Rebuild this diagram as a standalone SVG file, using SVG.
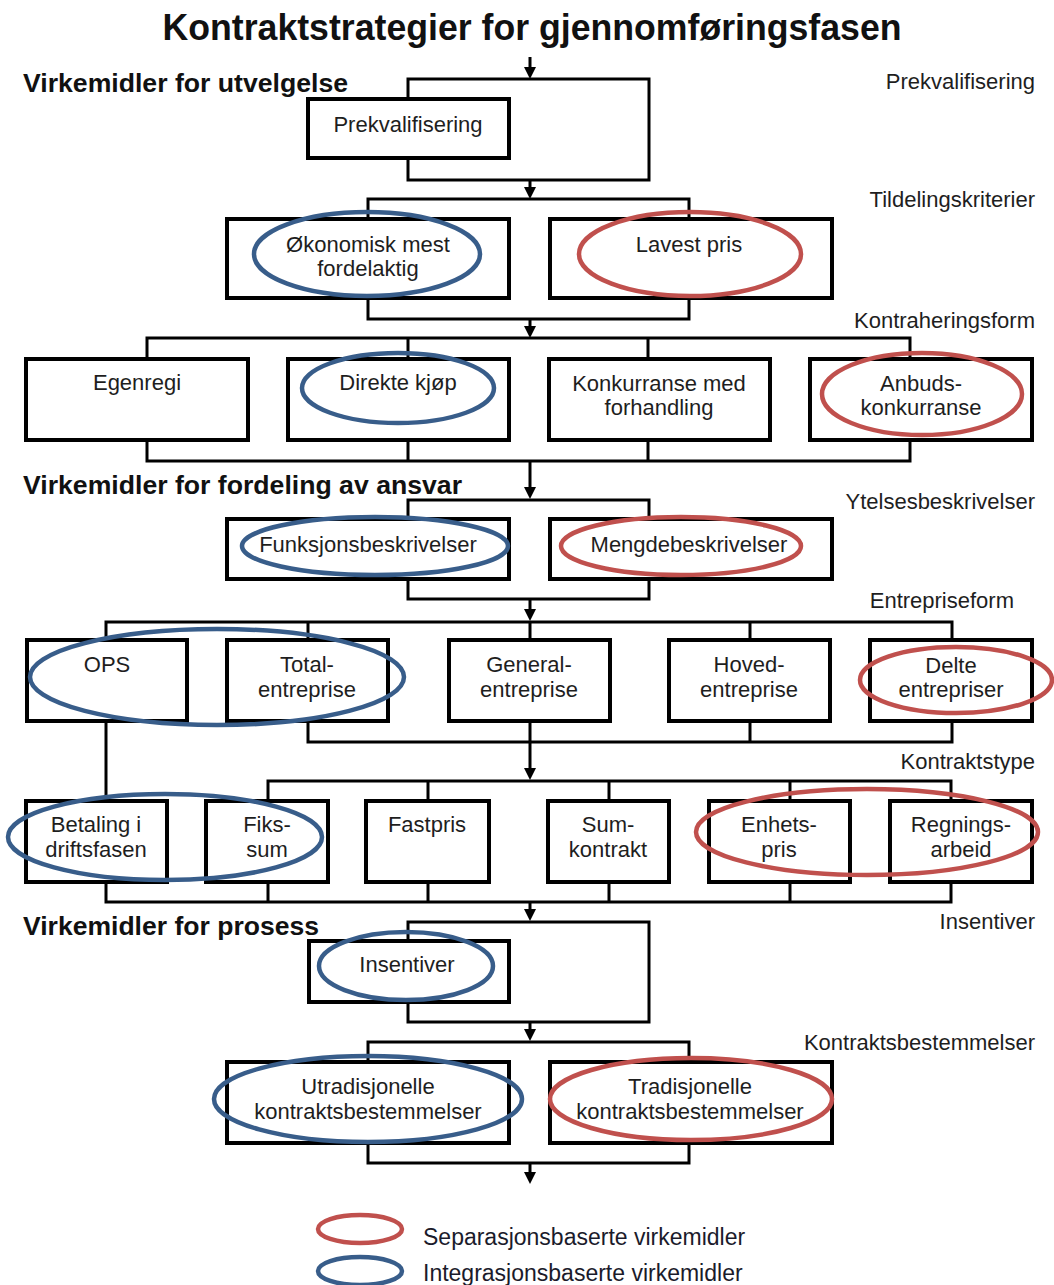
<svg xmlns="http://www.w3.org/2000/svg" width="1054" height="1285" viewBox="0 0 1054 1285">
  <style>
    .bg { fill: #ffffff; }
    .box { fill: #ffffff; stroke: #000000; stroke-width: 4; }
    .wire { fill: none; stroke: #000000; stroke-width: 3; }
    .arrow { fill: none; stroke: #000000; stroke-width: 3; marker-end: url(#head); }
    .t { font-family: "Liberation Sans", Arial, sans-serif; font-size: 22px; fill: #1e1e1e; text-anchor: middle; }
    .lvl { font-family: "Liberation Sans", Arial, sans-serif; font-size: 22px; fill: #1e1e1e; text-anchor: end; }
    .sec { font-family: "Liberation Sans", Arial, sans-serif; font-size: 26.5px; font-weight: bold; fill: #111111; }
    .title { font-family: "Liberation Sans", Arial, sans-serif; font-size: 36px; font-weight: bold; fill: #111111; text-anchor: middle; }
    .leg { font-family: "Liberation Sans", Arial, sans-serif; font-size: 23px; fill: #1b1b2b; }
    .sep { fill: none; stroke: #c0504d; stroke-width: 4.5; }
    .int { fill: none; stroke: #385d8a; stroke-width: 4.5; }
  </style>
  <defs>
    <marker id="head" markerUnits="userSpaceOnUse" markerWidth="12" markerHeight="12" refX="2" refY="6" orient="auto" viewBox="0 0 12 12">
      <path d="M0,0 L12,6 L0,12 z" fill="#000000"/>
    </marker>
  </defs>

  <rect class="bg" x="0" y="0" width="1054" height="1285"/>

  <text class="title" x="532" y="40" textLength="739" lengthAdjust="spacingAndGlyphs">Kontraktstrategier for gjennomføringsfasen</text>

  <!-- section headings -->
  <text class="sec" x="23" y="92" textLength="325" lengthAdjust="spacingAndGlyphs">Virkemidler for utvelgelse</text>
  <text class="sec" x="23" y="494" textLength="439" lengthAdjust="spacingAndGlyphs">Virkemidler for fordeling av ansvar</text>
  <text class="sec" x="23" y="935" textLength="296" lengthAdjust="spacingAndGlyphs">Virkemidler for prosess</text>

  <!-- level labels on the right -->
  <g id="levels">
    <text class="lvl" x="1035" y="89">Prekvalifisering</text>
    <text class="lvl" x="1035" y="207">Tildelingskriterier</text>
    <text class="lvl" x="1035" y="328">Kontraheringsform</text>
    <text class="lvl" x="1035" y="509">Ytelsesbeskrivelser</text>
    <text class="lvl" x="1014" y="608">Entrepriseform</text>
    <text class="lvl" x="1035" y="769">Kontraktstype</text>
    <text class="lvl" x="1035" y="929">Insentiver</text>
    <text class="lvl" x="1035" y="1050">Kontraktsbestemmelser</text>
  </g>

  <!-- connectors -->
  <g id="connectors">
    <!-- entry -->
    <line class="arrow" x1="530" y1="57" x2="530" y2="69"/>
    <!-- prequalification with bypass -->
    <path class="wire" d="M408,99 V79 H649 V180 H408 V158"/>
    <line class="arrow" x1="530" y1="180" x2="530" y2="189"/>
    <!-- award criteria -->
    <path class="wire" d="M368,219 V199 H689 V219"/>
    <path class="wire" d="M368,298 V319 H689 V298"/>
    <line class="arrow" x1="530" y1="319" x2="530" y2="328"/>
    <!-- procurement form -->
    <path class="wire" d="M147,359 V338 H910 V359 M408,338 V359 M648,338 V359"/>
    <path class="wire" d="M147,440 V461 H910 V440 M408,440 V461 M648,440 V461"/>
    <line class="arrow" x1="530" y1="461" x2="530" y2="489"/>
    <!-- performance descriptions -->
    <path class="wire" d="M408,519 V500 H649 V519"/>
    <path class="wire" d="M408,579 V599 H649 V579"/>
    <line class="arrow" x1="530" y1="599" x2="530" y2="611"/>
    <!-- contract form -->
    <path class="wire" d="M106,640 V622 H952 V640 M308,622 V640 M530,622 V640 M750,622 V640"/>
    <path class="wire" d="M308,721 V742 H952 V721 M530,721 V742 M750,721 V742"/>
    <path class="wire" d="M106,721 V801"/>
    <line class="arrow" x1="530" y1="742" x2="530" y2="770"/>
    <!-- contract type -->
    <path class="wire" d="M268,801 V781 H951 V801 M428,781 V801 M609,781 V801 M790,781 V801"/>
    <path class="wire" d="M106,882 V902 H951 V882 M268,882 V902 M428,882 V902 M609,882 V902 M790,882 V902"/>
    <line class="arrow" x1="530" y1="902" x2="530" y2="911"/>
    <!-- incentives with bypass -->
    <path class="wire" d="M408,941 V922 H649 V1022 H408 V1002"/>
    <line class="arrow" x1="530" y1="1022" x2="530" y2="1031"/>
    <!-- contract provisions -->
    <path class="wire" d="M368,1062 V1042 H689 V1062"/>
    <path class="wire" d="M368,1143 V1163 H689 V1143"/>
    <line class="arrow" x1="530" y1="1163" x2="530" y2="1174"/>
  </g>

  <!-- nodes -->
  <g id="n-prekval">
    <rect class="box" x="308" y="99" width="201" height="59"/>
    <text class="t" x="408" y="132">Prekvalifisering</text>
  </g>

  <g id="n-okonomisk">
    <rect class="box" x="227" y="219" width="282" height="79"/>
    <text class="t" x="368" y="252">Økonomisk mest</text>
    <text class="t" x="368" y="276">fordelaktig</text>
  </g>
  <g id="n-lavest">
    <rect class="box" x="550" y="219" width="282" height="79"/>
    <text class="t" x="689" y="252">Lavest pris</text>
  </g>

  <g id="n-egenregi">
    <rect class="box" x="26" y="359" width="222" height="81"/>
    <text class="t" x="137" y="390">Egenregi</text>
  </g>
  <g id="n-direkte">
    <rect class="box" x="288" y="359" width="221" height="81"/>
    <text class="t" x="398" y="390">Direkte kjøp</text>
  </g>
  <g id="n-konkurranse">
    <rect class="box" x="549" y="359" width="221" height="81"/>
    <text class="t" x="659" y="391">Konkurranse med</text>
    <text class="t" x="659" y="415">forhandling</text>
  </g>
  <g id="n-anbud">
    <rect class="box" x="810" y="359" width="222" height="81"/>
    <text class="t" x="921" y="391">Anbuds-</text>
    <text class="t" x="921" y="415">konkurranse</text>
  </g>

  <g id="n-funksjon">
    <rect class="box" x="227" y="519" width="282" height="60"/>
    <text class="t" x="368" y="552">Funksjonsbeskrivelser</text>
  </g>
  <g id="n-mengde">
    <rect class="box" x="550" y="519" width="282" height="60"/>
    <text class="t" x="689" y="552">Mengdebeskrivelser</text>
  </g>

  <g id="n-ops">
    <rect class="box" x="27" y="640" width="160" height="81"/>
    <text class="t" x="107" y="672">OPS</text>
  </g>
  <g id="n-total">
    <rect class="box" x="227" y="640" width="161" height="81"/>
    <text class="t" x="307" y="672">Total-</text>
    <text class="t" x="307" y="697">entreprise</text>
  </g>
  <g id="n-general">
    <rect class="box" x="449" y="640" width="161" height="81"/>
    <text class="t" x="529" y="672">General-</text>
    <text class="t" x="529" y="697">entreprise</text>
  </g>
  <g id="n-hoved">
    <rect class="box" x="669" y="640" width="161" height="81"/>
    <text class="t" x="749" y="672">Hoved-</text>
    <text class="t" x="749" y="697">entreprise</text>
  </g>
  <g id="n-delte">
    <rect class="box" x="870" y="640" width="162" height="81"/>
    <text class="t" x="951" y="673">Delte</text>
    <text class="t" x="951" y="697">entrepriser</text>
  </g>

  <g id="n-betaling">
    <rect class="box" x="26" y="801" width="141" height="81"/>
    <text class="t" x="96" y="832">Betaling i</text>
    <text class="t" x="96" y="857">driftsfasen</text>
  </g>
  <g id="n-fiks">
    <rect class="box" x="206" y="801" width="122" height="81"/>
    <text class="t" x="267" y="832">Fiks-</text>
    <text class="t" x="267" y="857">sum</text>
  </g>
  <g id="n-fastpris">
    <rect class="box" x="366" y="801" width="123" height="81"/>
    <text class="t" x="427" y="832">Fastpris</text>
  </g>
  <g id="n-sum">
    <rect class="box" x="548" y="801" width="121" height="81"/>
    <text class="t" x="608" y="832">Sum-</text>
    <text class="t" x="608" y="857">kontrakt</text>
  </g>
  <g id="n-enhet">
    <rect class="box" x="709" y="801" width="141" height="81"/>
    <text class="t" x="779" y="832">Enhets-</text>
    <text class="t" x="779" y="857">pris</text>
  </g>
  <g id="n-regning">
    <rect class="box" x="890" y="801" width="142" height="81"/>
    <text class="t" x="961" y="832">Regnings-</text>
    <text class="t" x="961" y="857">arbeid</text>
  </g>

  <g id="n-insentiver">
    <rect class="box" x="309" y="941" width="200" height="61"/>
    <text class="t" x="407" y="972">Insentiver</text>
  </g>

  <g id="n-utradisjonelle">
    <rect class="box" x="227" y="1062" width="282" height="81"/>
    <text class="t" x="368" y="1094">Utradisjonelle</text>
    <text class="t" x="368" y="1119">kontraktsbestemmelser</text>
  </g>
  <g id="n-tradisjonelle">
    <rect class="box" x="550" y="1062" width="282" height="81"/>
    <text class="t" x="690" y="1094">Tradisjonelle</text>
    <text class="t" x="690" y="1119">kontraktsbestemmelser</text>
  </g>

  <!-- classification rings -->
  <g id="highlights">
    <ellipse class="int" cx="367" cy="254" rx="113" ry="42"/>
    <ellipse class="sep" cx="690" cy="254" rx="111" ry="42"/>
    <ellipse class="int" cx="398" cy="388" rx="96" ry="35"/>
    <ellipse class="sep" cx="922" cy="394" rx="100" ry="41"/>
    <ellipse class="int" cx="375" cy="546" rx="133" ry="29"/>
    <ellipse class="sep" cx="681" cy="546" rx="120" ry="29"/>
    <ellipse class="int" cx="217" cy="677" rx="187" ry="48"/>
    <ellipse class="sep" cx="956" cy="680" rx="96" ry="33"/>
    <ellipse class="int" cx="165" cy="837" rx="157" ry="43"/>
    <ellipse class="sep" cx="867" cy="832" rx="171" ry="43"/>
    <ellipse class="int" cx="406" cy="966" rx="87" ry="34"/>
    <ellipse class="int" cx="368" cy="1099" rx="154" ry="43"/>
    <ellipse class="sep" cx="691" cy="1099" rx="141" ry="41"/>
  </g>

  <!-- legend -->
  <g id="legend">
    <ellipse class="sep" cx="360" cy="1229" rx="42" ry="14"/>
    <text class="leg" x="423" y="1245">Separasjonsbaserte virkemidler</text>
    <ellipse class="int" cx="360" cy="1271" rx="42" ry="14"/>
    <text class="leg" x="423" y="1281">Integrasjonsbaserte virkemidler</text>
  </g>
</svg>
